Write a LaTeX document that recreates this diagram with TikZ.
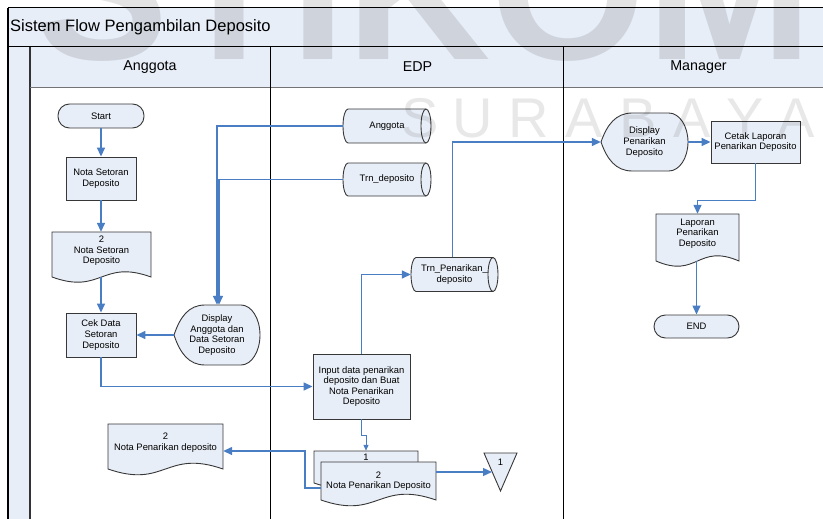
\documentclass[tikz,border=0pt]{standalone}
\usepackage{fontspec}
\setmainfont{Liberation Sans}
\usetikzlibrary{calc,arrows.meta}

\definecolor{hdrfill}{RGB}{232,238,248}
\definecolor{shpfill}{RGB}{232,238,247}
\definecolor{flow}{RGB}{74,126,196}
\definecolor{edge}{RGB}{55,55,55}

% document symbol: name, cx, cy, w, h, side extension, wave depth, text
\newcommand\docshape[8]{%
  \path[shp] ({#2-#4/2},{#3-#5/2}) -- ({#2+#4/2},{#3-#5/2}) -- ({#2+#4/2},{#3+#5/2+#6})
    .. controls ({#2},{#3+#5/2+#6-#7}) and ({#2},{#3+#5/2+#6+#7}) .. ({#2-#4/2},{#3+#5/2+#6}) -- cycle;
  \node[txt,minimum width=#4,minimum height=#5] (#1) at (#2,#3) {#8};
  \coordinate (#1-b) at (#2,{#3+#5/2+#6});
}
% display symbol: name, cx, cy, w, h, text
\newcommand\dispshape[6]{%
  \path[shp] ({#2-#4/2},#3)
    .. controls ({#2-#4/2+0.07*#4},{#3-0.3*#5}) and ({#2-#4/2+0.17*#4},{#3-#5/2}) .. ({#2-#4/2+0.36*#4},{#3-#5/2})
    -- ({#2+#4/2-0.22*#4},{#3-#5/2}) arc[start angle=-90,end angle=90,x radius={0.22*#4},y radius={#5/2}]
    -- ({#2-#4/2+0.36*#4},{#3+#5/2})
    .. controls ({#2-#4/2+0.17*#4},{#3+#5/2}) and ({#2-#4/2+0.07*#4},{#3+0.3*#5}) .. ({#2-#4/2},#3) -- cycle;
  \node[txt,minimum width=#4,minimum height=#5] (#1) at (#2,#3) {#6};
}
% stored data (horizontal cylinder): name, cx, cy, w, h, text
\newcommand\cylshape[6]{%
  \path[shp] ({#2-#4/2+5},{#3-#5/2}) -- ({#2+#4/2-5},{#3-#5/2})
    arc[start angle=-90,end angle=90,x radius=5,y radius={#5/2}]
    -- ({#2-#4/2+5},{#3+#5/2}) arc[start angle=90,end angle=270,x radius=5,y radius={#5/2}] -- cycle;
  \draw[draw=edge,line width=0.9pt] ({#2+#4/2-5},{#3-#5/2}) arc[start angle=270,end angle=90,x radius=5,y radius={#5/2}];
  \node[txt,minimum width=#4,minimum height=#5] (#1) at (#2,#3) {#6};
}

\begin{document}
\begin{tikzpicture}[x=1pt,y=-1pt,
  shp/.style={draw=edge,fill=shpfill,line width=0.9pt},
  txt/.style={font=\fontsize{9.4}{10.6}\selectfont,align=center,inner sep=0pt},
  procbox/.style={shp,txt,rectangle},
  term/.style={shp,txt,rectangle,rounded corners=11.5pt},
  flowarrow/.style={draw=flow,line width=1.4pt,-{Triangle[length=9pt,width=8pt]}},
  thinarrow/.style={draw=flow,line width=1pt,-{Triangle[length=6pt,width=5pt]}},
  lanetitle/.style={font=\fontsize{14.3}{16}\selectfont,inner sep=0pt},
  wmbig/.style={font=\fontsize{200}{200}\selectfont\bfseries,text=black,opacity=0.11,inner sep=0pt,anchor=base west},
  wmsmall/.style={font=\fontsize{56}{56}\selectfont,text=black,opacity=0.09,inner sep=0pt,anchor=base}]

\useasboundingbox (0,0) rectangle (823,519);

% swimlane frame
\fill[hdrfill] (8,8) rectangle (823,87);
\fill[hdrfill] (8,87) rectangle (30,519);
\draw[line width=1pt] (8,8) -- (823,8);
\draw[line width=1pt] (8,47) -- (823,47);
\draw[line width=1.2pt] (8,8) -- (8,519);
\draw[line width=1.2pt,draw=black!80] (30,47) -- (30,519);
\draw[line width=0.8pt,draw=black!55] (30,87) -- (823,87);
\draw[line width=1pt] (270,47) -- (270,519);
\draw[line width=1pt] (563,47) -- (563,519);

\node[font=\fontsize{16.5}{18}\selectfont,anchor=west,inner sep=0pt] (title) at (10,27) {Sistem Flow Pengambilan Deposito};
\node[lanetitle] (laneA) at (150,67) {Anggota};
\node[lanetitle] (laneE) at (417.5,67) {EDP};
\node[lanetitle] (laneM) at (698.5,67) {Manager};

% Anggota lane
\node[term,minimum width=86,minimum height=24] (start) at (101,116) {Start};
\node[procbox,minimum width=70,minimum height=43] (nsd) at (101,178.5) {Nota Setoran\\Deposito};
\docshape{doc1}{101.5}{251}{99}{38}{7}{18}{2\\Nota Setoran\\Deposito}
\node[procbox,minimum width=70,minimum height=44] (cek) at (101,335) {Cek Data\\Setoran\\Deposito};
\dispshape{disp1}{217}{335}{86}{60}{Display\\Anggota dan\\Data Setoran\\Deposito}
\docshape{doc2}{165.5}{442.5}{115}{37}{8}{20}{2\\Nota Penarikan deposito}

% EDP lane
\cylshape{cylA}{387}{126}{88}{34}{Anggota}
\cylshape{cylT}{387}{179.5}{88}{33}{Trn\_deposito}
\cylshape{cylP}{454.5}{274.5}{87}{34}{Trn\_Penarikan\_\\deposito}
\node[procbox,minimum width=97,minimum height=65] (inp) at (361.5,386.5) {Input data penarikan\\deposito dan Buat\\Nota Penarikan\\Deposito};
\docshape{docS1}{366}{457.5}{104}{13}{19}{18}{1}
\docshape{docS2}{378.5}{481}{115}{38}{0}{20}{2\\Nota Penarikan Deposito}
\path[shp] (484,453) -- (517,453) -- (500.5,491) -- cycle;
\node[txt] (off1) at (500.5,462) {1};

% Manager lane
\dispshape{dispP}{644.5}{142}{87}{58}{Display\\Penarikan\\Deposito}
\node[procbox,minimum width=89,minimum height=42] (cetak) at (755.5,142) {Cetak Laporan\\Penarikan Deposito};
\docshape{lap}{697.5}{233.5}{83}{39}{8}{18}{Laporan\\Penarikan\\Deposito}
\node[term,minimum width=85,minimum height=23] (end) at (696.5,326.5) {END};

% connectors
\draw[flowarrow] (start.south) -- (nsd.north);
\draw[flowarrow] (nsd.south) -- (nsd.south |- doc1.north);
\draw[flowarrow] (cek.north |- doc1-b) -- (cek.north);
\draw[flowarrow] (disp1.west) -- (disp1.west -| cek.east);
\draw[flowarrow] (cek.south) |- (inp.west);
\draw[flowarrow] (cylA.west) -| (disp1.north);
\draw[flowarrow] (cylT.west) -| ($(disp1.north)+(2,0)$);
\draw[flowarrow] (inp.north) |- (cylP.west);
\draw[flowarrow] ($(cylP.north)+(-2,0)$) |- (dispP.west);
\draw[flowarrow] (dispP.east) -- (cetak.west);
\draw[flowarrow] (cetak.south) -- ++(0,37) -| (lap.north);
\draw[flowarrow] (end.north |- lap-b) -- (end.north);
\draw[thinarrow] (inp.south) -- ++(0,16) -| (docS1.north);
\draw[flowarrow] ($(docS2.west)+(0,7)$) -- ++(-16,0) |- ($(doc2.east)+(0,8.5)$);
\draw[flowarrow] ($(docS2.east)+(0,-9)$) -- ($(off1)+(-8.5,10)$);

% watermark
\begin{scope}
\clip (0,0) rectangle (823,519);
\node[wmbig] (wmA) at (35,60) {STIKOM};
\node[wmsmall] (wm1) at (420,137) {S};
\node[wmsmall] (wm2) at (473,137) {U};
\node[wmsmall] (wm3) at (529,137) {R};
\node[wmsmall] (wm4) at (584,137) {A};
\node[wmsmall] (wm5) at (638,137) {B};
\node[wmsmall] (wm6) at (692,137) {A};
\node[wmsmall] (wm7) at (745,137) {Y};
\node[wmsmall] (wm8) at (796,137) {A};
\end{scope}
\end{tikzpicture}
\end{document}
